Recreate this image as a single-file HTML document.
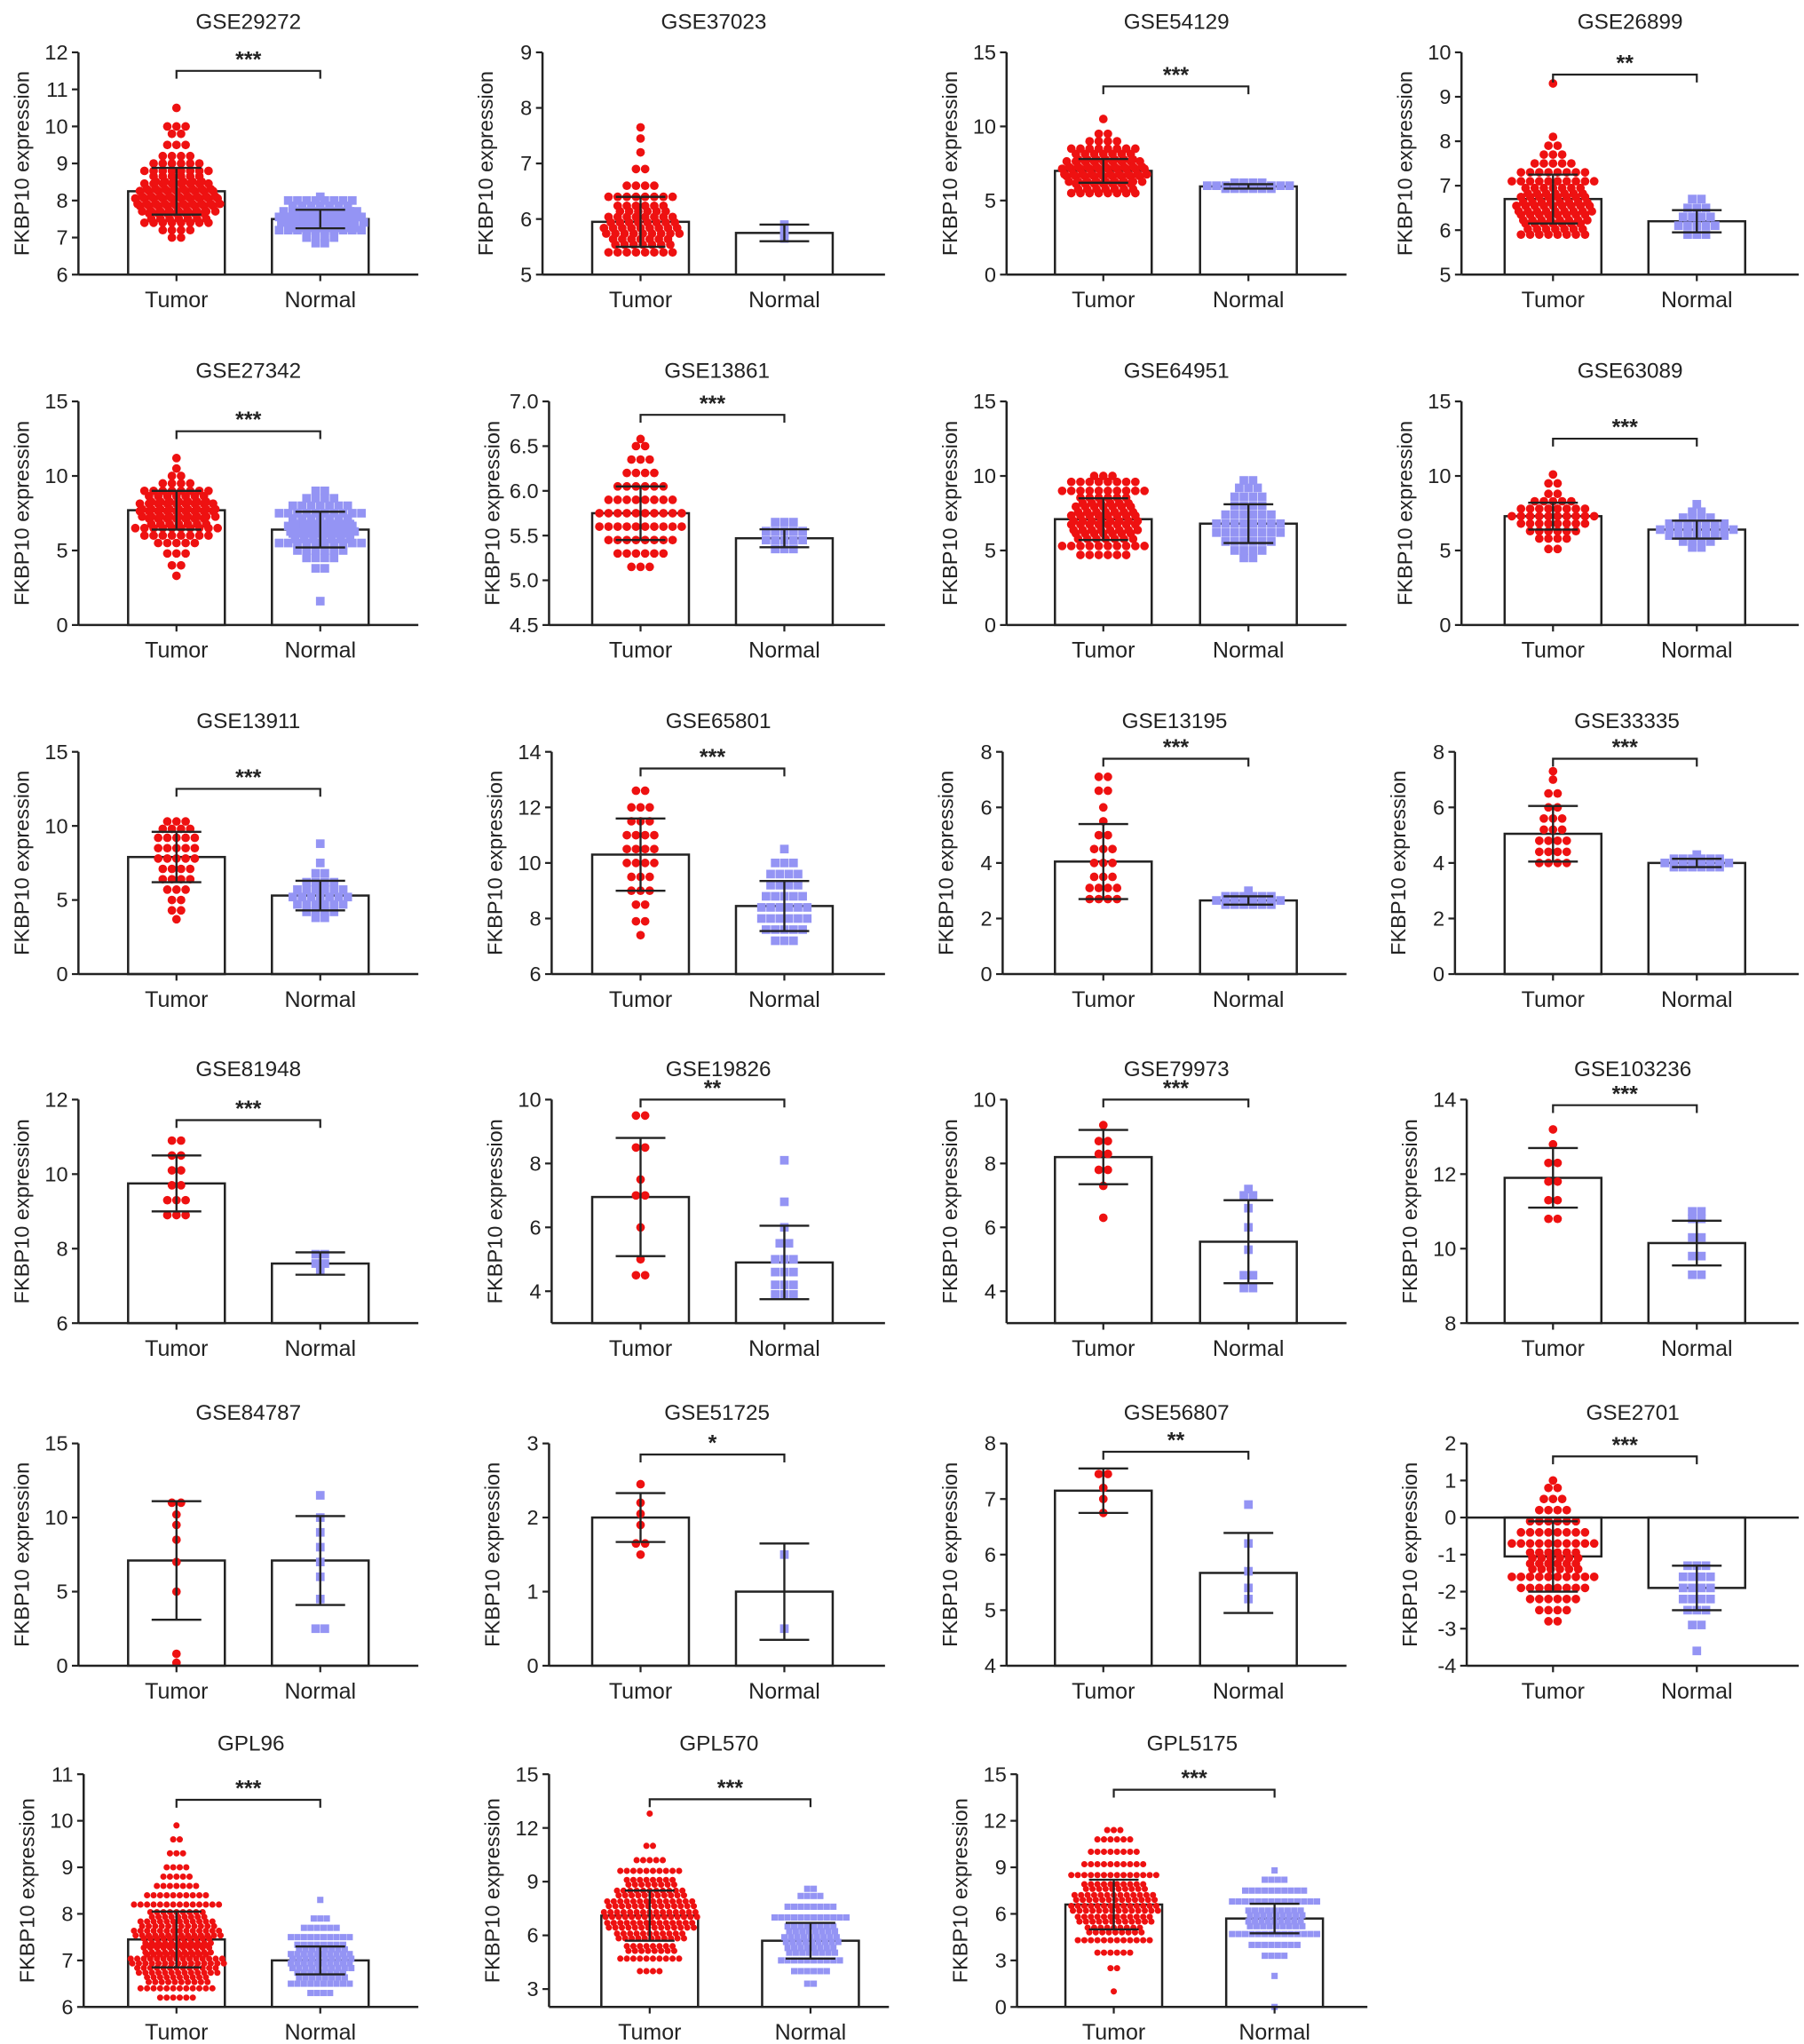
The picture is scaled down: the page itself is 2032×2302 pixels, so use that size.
<!DOCTYPE html>
<html><head><meta charset="utf-8"><style>
html,body{margin:0;padding:0;background:#fff;}
svg{display:block;font-family:"Liberation Sans",Arial,sans-serif;}
</style></head><body>
<svg id="fig" xmlns="http://www.w3.org/2000/svg" width="2032" height="2302" viewBox="0 0 1380 1563.3"></svg>
<script>
const titles=["GSE29272","GSE37023","GSE54129","GSE26899","GSE27342","GSE13861","GSE64951","GSE63089","GSE13911","GSE65801","GSE13195","GSE33335","GSE81948","GSE19826","GSE79973","GSE103236","GSE84787","GSE51725","GSE56807","GSE2701","GPL96","GPL570","GPL5175"];
const yMin=[6,5,0,5, 0,4.5,0,0, 0,6,0,0, 6,3,3,8, 0,0,4,-4, 6,2,0];
const yMax=[12,9,15,10, 15,7,15,15, 15,14,8,8, 12,10,10,14, 15,3,8,2, 11,15,15];
const yTicks=[[6,7,8,9,10,11,12],[5,6,7,8,9],[0,5,10,15],[5,6,7,8,9,10],
[0,5,10,15],[4.5,5,5.5,6,6.5,7],[0,5,10,15],[0,5,10,15],
[0,5,10,15],[6,8,10,12,14],[0,2,4,6,8],[0,2,4,6,8],
[6,8,10,12],[4,6,8,10],[4,6,8,10],[8,10,12,14],
[0,5,10,15],[0,1,2,3],[4,5,6,7,8],[-4,-3,-2,-1,0,1,2],
[6,7,8,9,10,11],[3,6,9,12,15],[0,3,6,9,12,15]];
const tickDecimals=[0,0,0,0, 0,1,0,0, 0,0,0,0, 0,0,0,0, 0,0,0,0, 0,0,0];
const tumorMean=[8.25,5.95,7.0,6.7, 7.7,5.75,7.1,7.3, 7.9,10.3,4.05,5.05, 9.75,6.95,8.2,11.9, 7.1,2.0,7.15,-1.05, 7.45,7.1,6.6];
const tumorSD=[0.63,0.45,0.8,0.55, 1.3,0.3,1.4,0.9, 1.7,1.3,1.35,1.0, 0.75,1.85,0.85,0.8, 4.0,0.33,0.4,0.95, 0.6,1.4,1.6];
const normalMean=[7.5,5.75,5.95,6.2, 6.4,5.47,6.8,6.4, 5.3,8.45,2.65,4.0, 7.6,4.9,5.55,10.15, 7.1,1.0,5.67,-1.9, 7.0,5.7,5.7];
const normalSD=[0.25,0.15,0.15,0.25, 1.2,0.1,1.3,0.6, 1.0,0.9,0.15,0.15, 0.3,1.15,1.3,0.6, 3.0,0.65,0.72,0.6, 0.3,1.0,0.95];
const sigLabels=["***","","***","**", "***","***","","***", "***","***","***","***", "***","**","***","***", "","*","**","***", "***","***","***"];
const sigLevel=[11.5,0,12.7,9.5, 13,6.85,0,12.5, 12.5,13.4,7.75,7.75, 11.45,10,10,13.85, 0,2.85,7.85,1.65, 10.45,13.6,14];
const tumorBins=[
[[7.0,2],[7.2,4],[7.4,8],[7.6,14],[7.8,18],[8.0,20],[8.2,18],[8.4,16],[8.6,12],[8.8,8],[9.0,6],[9.2,4],[9.5,3],[9.8,2],[10.0,3],[10.5,1]],
[[5.4,8],[5.6,14],[5.8,18],[6.0,16],[6.2,12],[6.4,8],[6.6,4],[6.9,2],[7.2,1],[7.45,1],[7.65,1]],
[[5.5,8],[6,14],[6.5,18],[7,20],[7.5,18],[8,14],[8.5,8],[9,4],[9.5,2],[10.5,1]],
[[5.9,8],[6.1,14],[6.3,16],[6.5,18],[6.7,16],[6.9,14],[7.1,10],[7.3,8],[7.5,5],[7.7,3],[7.9,2],[8.1,1],[9.3,1]],
[[3.3,1],[4,2],[4.8,3],[5.5,5],[6,8],[6.5,10],[7,14],[7.5,18],[8,18],[8.5,14],[9,8],[9.5,4],[10,2],[10.5,1],[11.2,1]],
[[5.15,3],[5.3,6],[5.45,8],[5.6,10],[5.75,10],[5.9,8],[6.05,6],[6.2,4],[6.35,3],[6.5,2],[6.58,1]],
[[4.7,6],[5.3,10],[6,14],[6.6,16],[7.2,16],[7.8,14],[8.4,12],[9,10],[9.6,8],[10.0,3]],
[[5.1,2],[5.8,4],[6.3,6],[6.8,8],[7.3,10],[7.8,8],[8.3,5],[8.8,2],[9.5,2],[10.1,1]],
[[3.7,1],[4.3,2],[5,2],[5.7,3],[6.4,4],[7.1,4],[7.8,5],[8.5,5],[9.2,5],[9.8,4],[10.3,3]],
[[7.4,1],[7.9,2],[8.5,2],[9,3],[9.5,3],[10,4],[10.5,4],[11,4],[11.5,3],[12,3],[12.6,2]],
[[2.7,4],[3.1,4],[3.5,3],[4,3],[4.5,3],[5,2],[5.5,1],[6,1],[6.6,2],[7.1,2]],
[[4.0,4],[4.4,4],[4.8,4],[5.2,3],[5.6,3],[6,2],[6.5,2],[7,1],[7.3,1]],
[[8.9,3],[9.3,3],[9.7,2],[10.1,2],[10.5,2],[10.9,2]],
[[4.5,2],[5,1],[6,1],[7,2],[7.5,1],[8.5,2],[9.5,2]],
[[6.3,1],[7.3,1],[7.8,2],[8.3,2],[8.7,2],[9.2,1]],
[[10.8,2],[11.3,2],[11.8,2],[12.3,2],[12.8,1],[13.2,1]],
[[0.2,1],[0.8,1],[5,1],[7,1],[8.5,1],[9.5,1],[10.2,1],[11,2]],
[[1.5,1],[1.65,2],[1.9,1],[2.05,1],[2.2,1],[2.45,1]],
[[6.75,1],[7.0,1],[7.2,1],[7.45,2]],
[[-2.8,2],[-2.5,4],[-2.2,6],[-1.9,8],[-1.6,10],[-1.3,12],[-1.0,12],[-0.7,10],[-0.4,8],[-0.1,6],[0.2,4],[0.5,3],[0.8,2],[1.0,1]],
[[6.2,6],[6.4,12],[6.6,20],[6.8,26],[7.0,30],[7.2,32],[7.4,32],[7.6,28],[7.8,24],[8.0,18],[8.2,14],[8.4,10],[8.6,7],[8.8,5],[9.0,4],[9.3,3],[9.6,2],[9.9,1]],
[[4,4],[4.7,10],[5.3,16],[6,22],[6.6,28],[7.2,30],[7.8,28],[8.4,22],[9,16],[9.6,10],[10.2,5],[11,2],[12.8,1]],
[[1,1],[2.5,2],[3.5,6],[4.3,12],[5,18],[5.7,24],[6.4,28],[7.1,26],[7.8,20],[8.5,14],[9.2,10],[10,8],[10.8,6],[11.4,3]]
];
const normalBins=[
[[6.85,2],[7.0,4],[7.2,10],[7.35,16],[7.5,20],[7.65,18],[7.8,14],[8.0,8],[8.1,1]],
[[5.65,1],[5.75,1],[5.9,1]],
[[5.8,6],[6.0,10],[6.2,4]],
[[5.9,3],[6.1,5],[6.3,4],[6.5,3],[6.7,2]],
[[1.6,1],[3.8,2],[4.5,4],[5,6],[5.5,10],[6,14],[6.5,16],[7,14],[7.5,10],[8,7],[8.5,4],[9,2]],
[[5.35,3],[5.45,5],[5.55,5],[5.65,3]],
[[4.5,2],[5,4],[5.6,6],[6.2,8],[6.8,8],[7.4,6],[8,4],[8.6,4],[9.2,3],[9.7,2]],
[[5.2,2],[5.6,4],[6.0,7],[6.4,9],[6.8,7],[7.2,4],[7.6,2],[8.1,1]],
[[3.8,2],[4.2,4],[4.7,6],[5.2,7],[5.7,6],[6.2,4],[6.8,2],[7.5,1],[8.8,1]],
[[7.2,3],[7.6,5],[8,6],[8.4,6],[8.8,5],[9.2,4],[9.6,4],[10,3],[10.5,1]],
[[2.5,6],[2.65,8],[2.8,6],[3.0,1]],
[[3.85,6],[4.0,8],[4.15,6],[4.3,1]],
[[7.4,1],[7.6,2],[7.85,2]],
[[3.9,3],[4.2,3],[4.6,3],[5,3],[5.5,2],[6,1],[6.8,1],[8.1,1]],
[[4.1,2],[4.5,2],[5.3,1],[6,1],[6.6,1],[7.0,2],[7.2,1]],
[[9.3,2],[9.8,2],[10.3,2],[10.8,2],[11.0,2]],
[[2.5,2],[4.5,1],[6,1],[7,1],[8,1],[9,1],[10,1],[11.5,1]],
[[0.5,1],[1.5,1]],
[[5.2,1],[5.4,1],[5.7,1],[6.2,1],[6.9,1]],
[[-3.6,1],[-2.9,2],[-2.5,3],[-2.2,4],[-1.9,4],[-1.6,4],[-1.3,3]],
[[6.3,4],[6.5,10],[6.7,16],[6.9,20],[7.1,20],[7.3,16],[7.5,10],[7.7,6],[7.9,3],[8.3,1]],
[[3.3,2],[4,6],[4.6,10],[5.2,16],[5.8,18],[6.4,16],[7,12],[7.6,8],[8.2,4],[8.6,2]],
[[0,1],[2,1],[3.3,4],[4,8],[4.7,14],[5.4,18],[6.1,18],[6.8,14],[7.5,10],[8.2,4],[8.8,1]]
];

// ---- layout (positions, not data) ----
const rowBottom=[210,478,745,1012,1274,1535];
const rowTop=[40,307,575,841,1104,1357];
const axisXs=[60,415,770,1118, 60,420,770,1118, 60,422,767,1113, 60,422,770,1122, 60,420,770,1122, 64,420,778];
const NS="http://www.w3.org/2000/svg";
const svg=document.getElementById('fig');
function mk(tag,attrs,parent){const e=document.createElementNS(NS,tag);for(const k in attrs)e.setAttribute(k,attrs[k]);(parent||svg).appendChild(e);return e;}
const RED="#ee1111",BLUE="#9494f4";

for(let p=0;p<titles.length;p++){
  const row=Math.floor(p/4),col=p%4;
  const ax=axisXs[p];
  let xEnd,cT,cN;
  if(row<5){xEnd=[320,677,1030,1376][col];cT=[135,490,844,1188][col];cN=[245,600,955,1298][col];}
  else{xEnd=[320,680,1046][col];cT=[135,497,852][col];cN=[245,620,975][col];}
  const yb=rowBottom[row],yt=rowTop[row];
  const y=v=>yb-(v-yMin[p])/(yMax[p]-yMin[p])*(yb-yt);
  const g=mk('g',{});
  
  
  const t=mk('text',{x:(ax+xEnd)/2,y:yt-18,'text-anchor':'middle','font-size':16.5,fill:'#222'},g);
  t.textContent=titles[p];
  
  
  const yl=mk('text',{x:0,y:0,'text-anchor':'middle','font-size':16,fill:'#222',transform:`translate(${ax-38},${(yb+yt)/2}) rotate(-90)`},g);
  yl.textContent='FKBP10 expression';
  
  
  const yax=mk('line',{x1:ax,y1:yt,x2:ax,y2:yb,stroke:'#222','stroke-width':1.7},g);
  
  
  yTicks[p].forEach(v=>{
    mk('line',{x1:ax-5,x2:ax,y1:y(v),y2:y(v),stroke:'#222','stroke-width':1.5},g);
    const tl=mk('text',{x:ax-8,y:y(v)+5.5,'text-anchor':'end','font-size':16,fill:'#222'},g);
    tl.textContent=v.toFixed(tickDecimals[p]);
    
    
  });
  const base=yMin[p]<0?0:yMin[p];
  const groups=[[cT,tumorMean[p],tumorSD[p],tumorBins[p],'tumor'],[cN,normalMean[p],normalSD[p],normalBins[p],'normal']];
  let total=0;tumorBins[p].forEach(b=>total+=b[1]);
  const dense=total>150;
  const r=dense?2.4:3.3, sp=dense?5:7;
  groups.forEach(([cx,m,sd,bins,nm])=>{
    const top=Math.min(y(m),y(base)),h=Math.abs(y(m)-y(base));
    const bar=mk('rect',{x:cx-37,y:top,width:74,height:h,fill:'#fff',stroke:'#222','stroke-width':1.7},g);
    
    
    const pg=mk('g',{fill:nm==='tumor'?RED:BLUE},g);
    
    
    bins.forEach(([v,n])=>{
      const cap=Math.floor(72/sp)+1;
      const rows=Math.ceil(n/cap);
      let left=n;
      for(let rr=0;rr<rows;rr++){
        const k=Math.min(cap,Math.ceil(left/(rows-rr)));left-=k;
        const dy=(rr-(rows-1)/2)*(dense?2.6:3.2)+(rr%2?1:0);
        const s=k>1?Math.min(sp,72/(k-1)):0;
        for(let i=0;i<k;i++){
          const px=cx+(i-(k-1)/2)*s+(rr%2?s/2*0.5:0),py=y(v)+dy;
          if(nm==='tumor')mk('circle',{cx:px,cy:py,r:r},pg);
          else mk('rect',{x:px-r,y:py-r,width:2*r,height:2*r},pg);
        }
      }
    });
    const eb=mk('path',{d:`M${cx},${y(m+sd)}V${y(m-sd)}M${cx-19},${y(m+sd)}H${cx+19}M${cx-19},${y(m-sd)}H${cx+19}`,stroke:'#222','stroke-width':1.6,fill:'none'},g);
    
    
    const cl=mk('text',{x:cx,y:yb+25,'text-anchor':'middle','font-size':17,fill:'#222'},g);
    cl.textContent=nm==='tumor'?'Tumor':'Normal';
    
    
    mk('line',{x1:cx,x2:cx,y1:yb,y2:yb+5,stroke:'#222','stroke-width':1.5},g);
  });
  const xax=mk('line',{x1:ax,y1:yb,x2:xEnd,y2:yb,stroke:'#222','stroke-width':1.7},g);
  
  
  if(yMin[p]<0){
    const zl=mk('line',{x1:ax,y1:y(0),x2:xEnd,y2:y(0),stroke:'#222','stroke-width':1.7},g);
    
    
  }
  if(sigLabels[p]){
    const sy=y(sigLevel[p]);
    const br=mk('path',{d:`M${cT},${sy+6}V${sy}H${cN}V${sy+6}`,stroke:'#222','stroke-width':1.5,fill:'none'},g);
    
    
    const st=mk('text',{x:(cT+cN)/2,y:sy-3,'text-anchor':'middle','font-size':17,'font-weight':'bold',fill:'#222'},g);
    st.textContent=sigLabels[p];
    
    
  }
}
</script>
</body></html>
